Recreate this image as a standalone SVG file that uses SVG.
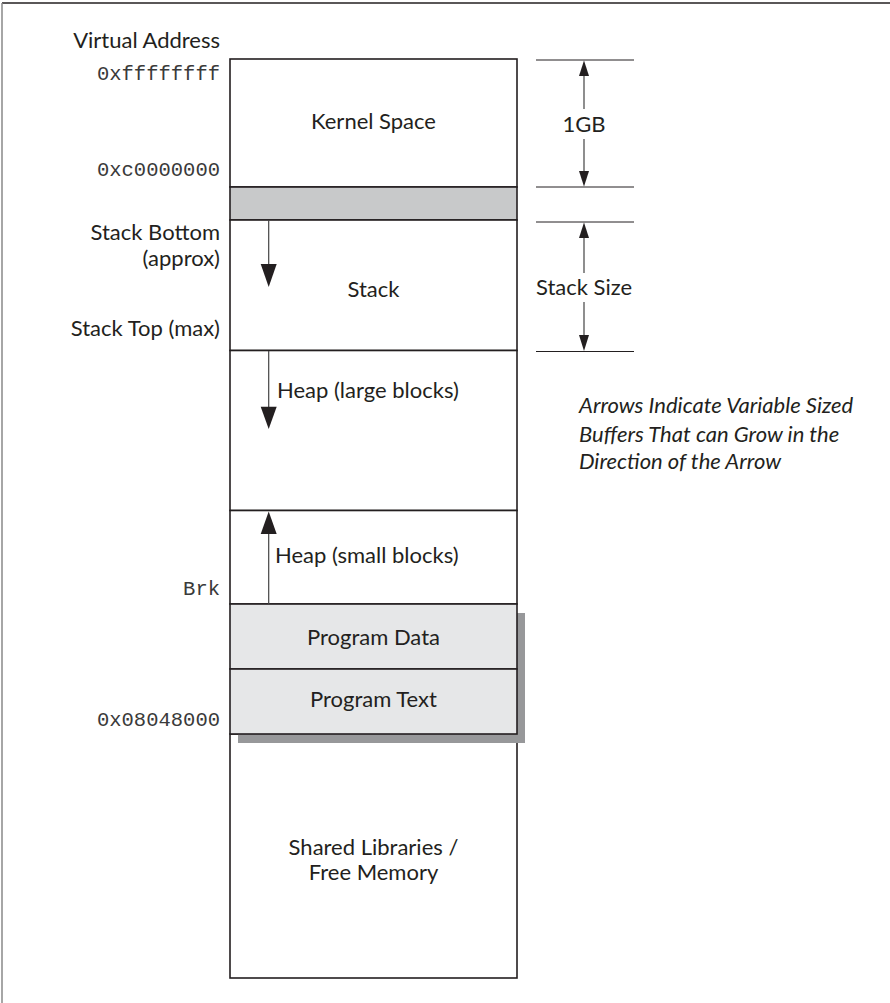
<svg xmlns="http://www.w3.org/2000/svg" width="890" height="1003" viewBox="0 0 890 1003">
<defs>
<style>
.t{font-family:Lato,"Open Sans","DejaVu Sans",sans-serif;font-size:22px;fill:#231f20}
.m{font-family:"Liberation Mono","DejaVu Sans Mono",monospace;font-size:20.5px;fill:#3a3a3a}
.i{font-family:Lato,"Open Sans",sans-serif;font-size:22px;font-style:italic;fill:#231f20}
.box{stroke:#231f20;stroke-width:1.6}
.shaft{stroke:#444;stroke-width:1.2;fill:none}
.dim{stroke:#231f20;stroke-width:1;fill:none}
.head{fill:#231f20}
</style>
</defs>
<rect width="890" height="1003" fill="#fff"/>
<line x1="2" y1="3" x2="890" y2="3" stroke="#231f20" stroke-width="1.5"/>
<line x1="2" y1="3" x2="2" y2="1003" stroke="#888" stroke-width="1.5"/>

<g id="labels">
<text class="t" x="220" y="48" text-anchor="end">Virtual Address</text>
<text class="m" x="220" y="80" text-anchor="end">0xffffffff</text>
<text class="m" x="220" y="176" text-anchor="end">0xc0000000</text>
<text class="t" x="220" y="240" text-anchor="end">Stack Bottom</text>
<text class="t" x="220" y="266" text-anchor="end">(approx)</text>
<text class="t" x="220" y="336" text-anchor="end">Stack Top (max)</text>
<text class="m" x="220" y="595" text-anchor="end">Brk</text>
<text class="m" x="220" y="726" text-anchor="end">0x08048000</text>
</g>

<g id="kernel"><rect class="box" x="230" y="59" width="287" height="128" fill="#fff"/><text class="t" x="373.5" y="129" text-anchor="middle">Kernel Space</text></g>
<g id="guard"><rect class="box" x="230" y="187" width="287" height="33" fill="#c8c9ca"/></g>
<g id="stack"><rect class="box" x="230" y="220" width="287" height="130.5" fill="#fff"/><text class="t" x="373.5" y="297" text-anchor="middle">Stack</text></g>
<g id="heap-large"><rect class="box" x="230" y="350.5" width="287" height="160" fill="#fff"/><text class="t" x="277" y="398">Heap (large blocks)</text></g>
<g id="heap-small"><rect class="box" x="230" y="510.5" width="287" height="93.5" fill="#fff"/><text class="t" x="275" y="563">Heap (small blocks)</text></g>
<g id="shared"><rect class="box" x="230" y="734" width="287" height="244" fill="#fff"/><text class="t" x="373.5" y="855" text-anchor="middle">Shared Libraries /</text><text class="t" x="373.5" y="880" text-anchor="middle">Free Memory</text></g>
<g id="shadow"><rect x="238" y="613" width="287" height="130" fill="#97989a"/></g>
<g id="program-data"><rect class="box" x="230" y="604" width="287" height="65" fill="#e6e7e8"/><text class="t" x="373.5" y="645" text-anchor="middle">Program Data</text></g>
<g id="program-text"><rect class="box" x="230" y="669" width="287" height="65" fill="#e6e7e8"/><text class="t" x="373.5" y="707" text-anchor="middle">Program Text</text></g>

<g id="note">
<text class="i" x="579" y="413">Arrows Indicate Variable Sized</text>
<text class="i" x="579" y="442">Buffers That can Grow in the</text>
<text class="i" x="579" y="469">Direction of the Arrow</text>
</g>

<g id="connectors">
<line class="shaft" x1="268.7" y1="220" x2="268.7" y2="266"/>
<polygon class="head" points="260.7,264 276.7,264 268.7,287"/>
<line class="shaft" x1="268.7" y1="351" x2="268.7" y2="409"/>
<polygon class="head" points="260.7,406.7 276.7,406.7 268.7,429"/>
<line class="shaft" x1="268.7" y1="604" x2="268.7" y2="532"/>
<polygon class="head" points="260.7,534 276.7,534 268.7,511.5"/>

<line class="dim" x1="536" y1="60" x2="634" y2="60"/>
<line class="dim" x1="536" y1="187" x2="634" y2="187"/>
<line class="shaft" x1="584" y1="74" x2="584" y2="109"/>
<line class="shaft" x1="584" y1="139" x2="584" y2="172"/>
<polygon class="head" points="579,76 589,76 584,60.5"/>
<polygon class="head" points="579,171 589,171 584,186.5"/>
<text class="t" x="584" y="132" text-anchor="middle">1GB</text>

<line class="dim" x1="536" y1="222" x2="634" y2="222"/>
<line class="dim" x1="536" y1="351.5" x2="634" y2="351.5"/>
<line class="shaft" x1="584" y1="236" x2="584" y2="273"/>
<line class="shaft" x1="584" y1="302" x2="584" y2="337"/>
<polygon class="head" points="579,238 589,238 584,222.5"/>
<polygon class="head" points="579,335 589,335 584,351"/>
<text class="t" x="584" y="295" text-anchor="middle">Stack Size</text>
</g>
</svg>
